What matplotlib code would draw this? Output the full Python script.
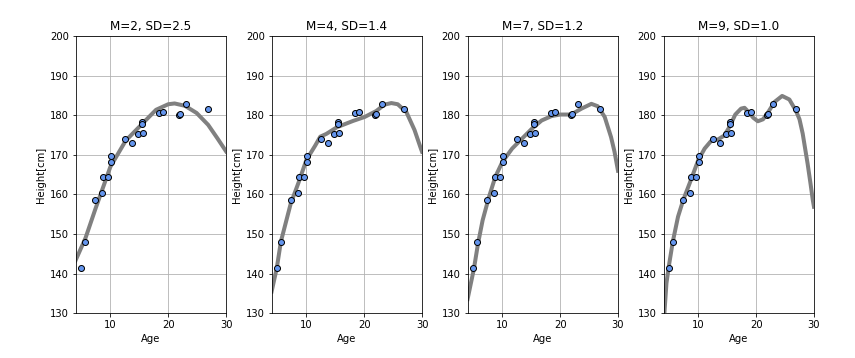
import numpy as np
import matplotlib
matplotlib.use("Agg")
import matplotlib.pyplot as plt

# measured data (age, height)
age = [5.00, 5.69, 7.41, 8.62, 8.68, 9.60, 10.06, 10.17, 12.53, 13.68,
       14.83, 15.58, 15.46, 15.46, 18.45, 19.03, 21.90, 22.08, 23.00, 26.96]
height = [141.5, 148.1, 158.7, 160.3, 164.3, 164.5, 168.2, 169.6, 174.0, 173.0,
          175.2, 175.5, 178.3, 177.8, 180.7, 180.8, 180.0, 180.4, 182.8, 181.6]

titles = ["M=2, SD=2.5", "M=4, SD=1.4", "M=7, SD=1.2", "M=9, SD=1.0"]

# fitted curves
fit_x = [
    [4.0, 5.7, 7.4, 10.0, 12.65, 15.4, 17.9, 20.0, 21.1, 22.9, 24.9, 26.9,
     28.5, 30.0],
    [4.0, 4.9, 5.6, 7.3, 8.6, 10.0, 11.55, 12.4, 13.45, 15.3, 18.1, 20.1, 22.1,
     23.5, 24.7, 25.8, 27.3, 28.7, 29.8, 30.0],
    [4.0, 5.1, 5.8, 6.6, 7.7, 8.8, 10.0, 11.7, 13.4, 15.1, 16.8, 18.5, 20.0,
     21.9, 23.7, 25.4, 26.5, 27.7, 28.8, 29.4, 30.0],
    [4.0, 4.5, 4.9, 5.6, 6.5, 7.4, 8.5, 10.0, 11.1, 12.2, 13.4, 14.5, 15.4,
     16.4, 17.4, 18.0, 18.85, 19.5, 20.3, 21.2, 22.0, 23.2, 24.5, 25.75,
     26.9, 27.5, 28.05, 28.9, 29.4, 29.8, 30.0],
]
fit_y = [
    [143.4, 149.0, 156.3, 167.0, 173.6, 177.7, 181.4, 182.8, 183.0, 182.4,
     180.6, 177.6, 174.2, 170.9],
    [135.5, 141.5, 148.1, 157.7, 162.8, 168.7, 172.4, 174.6, 175.3, 177.0,
     178.6, 179.6, 181.1, 182.7, 183.1, 182.8, 180.8, 176.3, 171.6, 170.8],
    [133.6, 141.3, 147.6, 153.5, 159.4, 164.5, 168.2, 171.6, 174.1, 176.6,
     178.7, 179.8, 180.2, 180.2, 181.7, 182.9, 182.3, 179.6, 174.5, 170.8,
     166.0],
    [127.0, 137.6, 141.8, 148.1, 154.4, 158.6, 162.8, 168.7, 171.6, 173.5,
     173.9, 174.9, 177.1, 180.2, 181.7, 181.9, 180.6, 179.4, 178.5, 179.0,
     180.6, 183.4, 184.9, 184.0, 181.1, 179.0, 175.4, 167.8, 162.8, 158.6,
     156.9],
]

fig = plt.figure(figsize=(855 / 72, 358 / 72), dpi=72)
plt.subplots_adjust(left=0.0885, right=0.952, bottom=0.125, top=0.899, wspace=0.303)

for i in range(4):
    plt.subplot(1, 4, i + 1)
    plt.plot(fit_x[i], fit_y[i], c=[.5, .5, .5], lw=4)
    plt.plot(age, height, marker='o', linestyle='None', color='cornflowerblue',
             markeredgecolor='black', markersize=6)
    plt.xlim(4, 30)
    plt.ylim(130, 200)
    plt.title(titles[i], fontsize=12)
    plt.xlabel("Age")
    plt.ylabel("Height[cm]")
    plt.grid(True)

plt.savefig("out.png", dpi=72)
